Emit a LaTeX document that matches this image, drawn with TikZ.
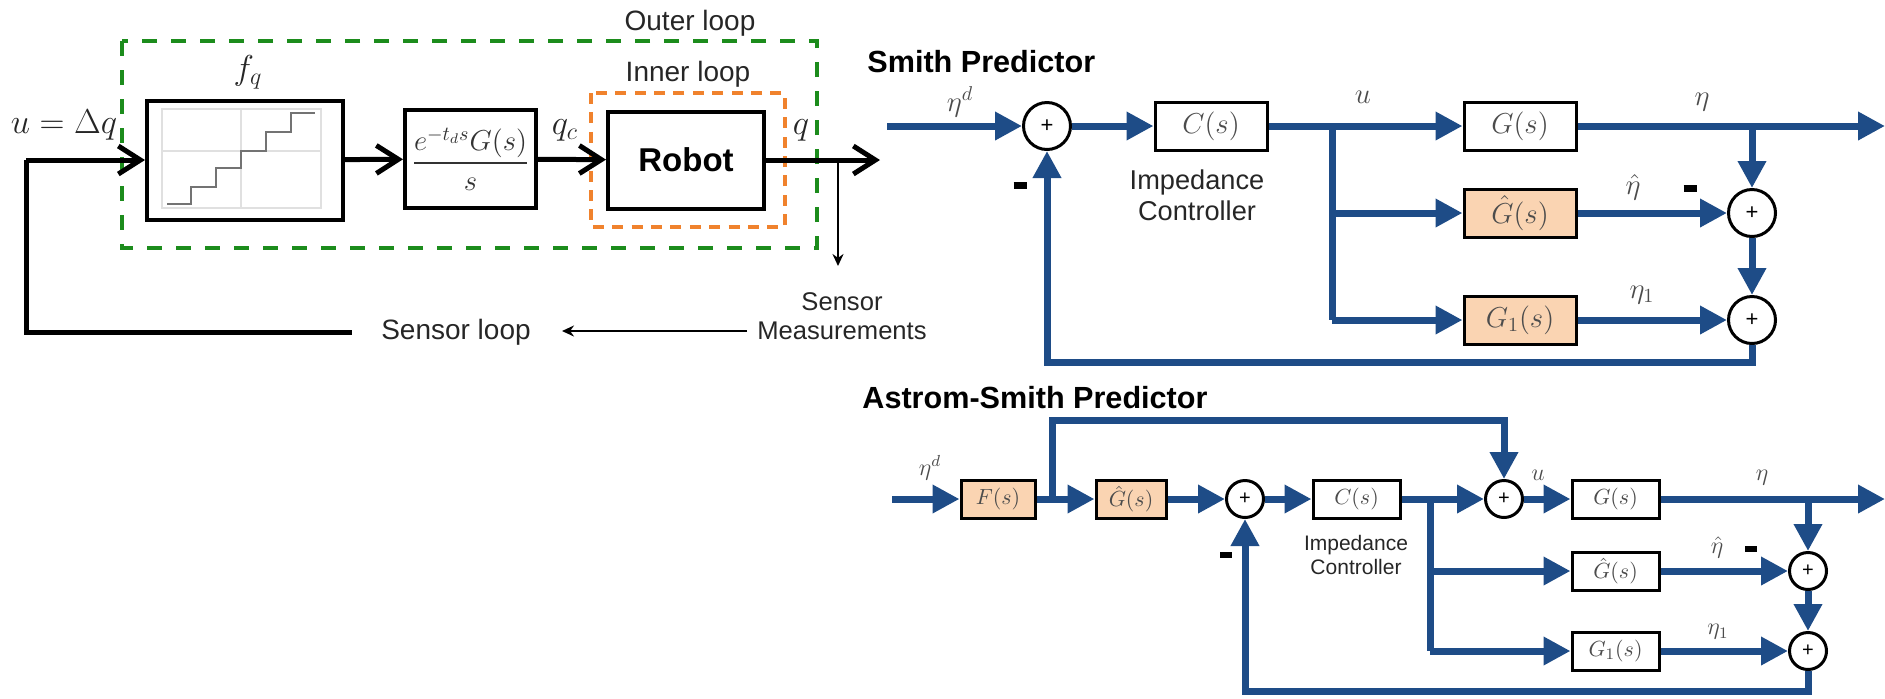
\documentclass[tikz,border=0pt]{standalone}
\usepackage{amsmath}
\usepackage{fontspec}
\setsansfont{Liberation Sans}
\usetikzlibrary{arrows.meta}
\definecolor{sblue}{RGB}{30,76,135}
\definecolor{peach}{RGB}{250,212,178}
\definecolor{outergreen}{RGB}{28,140,28}
\definecolor{innerorange}{RGB}{240,130,45}
\newcommand{\fs}[1]{\fontsize{#1}{1.2\dimexpr#1\relax}\selectfont}
\begin{document}
\begin{tikzpicture}[x=0.5pt,y=-0.5pt,line join=miter,
  sanslbl/.style={font=\fs{14pt}\sffamily,text=black!85,inner sep=0},
  mathlbl/.style={font=\fs{17pt},text=black!85,inner sep=0},
  blk/.style={line width=2.5pt,black,-{Straight Barb[length=11pt,width=14pt]}},
  blkline/.style={line width=2.5pt,black},
  thinarr/.style={line width=1pt,black,-{Stealth[length=6pt,width=5.5pt]}},
  bigbox/.style={draw,line width=2pt,fill=white,inner sep=0},
  bluearr/.style={draw=sblue,line width=3.5pt,-{Triangle[length=13.5pt,width=13.5pt]}},
  blueline/.style={draw=sblue,line width=3.5pt},
  tf/.style={draw,line width=1.5pt,fill=white,inner sep=0,minimum width=56pt,minimum height=24pt,font=\fs{14pt},text=black!70},
  tfs/.style={draw,line width=1.5pt,fill=white,inner sep=0,minimum width=43.5pt,minimum height=19pt,font=\fs{11.3pt},text=black!70},
  sumc/.style={circle,draw,line width=1.5pt,fill=white,inner sep=0,minimum size=23.5pt,font=\fs{11pt}\sffamily},
  sumcs/.style={circle,draw,line width=1.5pt,fill=white,inner sep=0,minimum size=18.5pt,font=\fs{10pt}\sffamily},
  siglbl/.style={font=\fs{14pt},text=black!70,inner sep=0},
  siglbls/.style={font=\fs{11.5pt},text=black!70,inner sep=0},
  minus/.style={inner sep=0,text=black},
  title/.style={font=\fs{15.3pt}\sffamily\bfseries,anchor=west,inner sep=0}
]
\useasboundingbox (0,0) rectangle (1885,698);

% ---------------- left: quantised joint command loop ----------------
\draw[outergreen,line width=2pt,dash pattern=on 7.5pt off 7pt] (122,41) rectangle (817,248);
\draw[innerorange,line width=1.8pt,dash pattern=on 5.5pt off 4.2pt] (591,93) rectangle (785,227);
\node[sanslbl] (outerlbl) at (690,23) {Outer loop};
\node[sanslbl] (innerlbl) at (688,74) {Inner loop};

\node[bigbox,minimum width=98pt,minimum height=59.5pt] (fq) at (245,160) {};
% staircase characteristic inside the quantiser block
\draw[black!12,line width=0.8pt] (162,109) rectangle (321,208);
\draw[black!12,line width=0.8pt] (241,109) -- (241,208) (162,151) -- (321,151);
\draw[black!55,line width=1.3pt] (167,204) -| (191,187) -| (216,168) -| (241,151) -| (266,132) -| (291,113) -- (315,113);
\node[mathlbl] (fqlbl) at (248,72) {$f_q$};

\node[bigbox,minimum width=65.5pt,minimum height=49pt,font=\fs{14pt},text=black!80] (delay) at (470.5,159) {$\dfrac{e^{-t_d s}G(s)}{s}$};
\node[bigbox,minimum width=78pt,minimum height=48.5pt,font=\fs{16.5pt}\sffamily\bfseries] (robot) at (686,160) {Robot};

\coordinate (uin) at (26,160);
\coordinate (fbc) at (26,332);
\coordinate (fbe) at (352,332);
\coordinate (qout) at (880,160);
\coordinate (sb) at (838,160);
\coordinate (se) at (838,266);
\coordinate (sla) at (747,331);
\coordinate (slb) at (562,331);

\draw[blk] (uin) -- (fq);
\draw[blk] (fq) -- (delay);
\draw[blk] (delay) -- (robot);
\draw[blk] (robot) -- (qout);
\draw[blkline] (uin) -- (fbc) -- (fbe);
\draw[thinarr] (sb) -- (se);
\draw[thinarr] (sla) -- (slb);

\node[mathlbl] (ulbl) at (64,125) {$u=\Delta q$};
\node[mathlbl] (qclbl) at (565,130) {$q_c$};
\node[mathlbl] (qlbl) at (801,130) {$q$};
\node[sanslbl,font=\fs{12.8pt}\sffamily,align=center] (sm) at (842,316) {Sensor\\[-1pt]Measurements};
\node[sanslbl] (sl) at (456,332) {Sensor loop};

% ---------------- Smith predictor ----------------
\node[title] (smithtitle) at (867,62) {Smith Predictor};
\coordinate (sin) at (887,126);
\node[sumc] (s1) at (1047,126) {+};
\node[tf] (c1) at (1211,126) {$C(s)$};
\node[tf] (g1) at (1520,126) {$G(s)$};
\node[tf,fill=peach] (gh1) at (1520,213) {$\hat G(s)$};
\node[tf,fill=peach] (gone1) at (1520,320) {$G_1(s)$};
\node[sumc] (s2) at (1752,213) {+};
\node[sumc] (s3) at (1752,320) {+};
\coordinate (b1) at (1332,126);
\coordinate (o1) at (1885,126);
\coordinate (fb1) at (1752,362);

\draw[bluearr] (sin) -- (s1);
\draw[bluearr] (s1) -- (c1);
\draw[bluearr] (c1) -- (g1);
\draw[bluearr] (g1) -- (o1);
\draw[blueline] (b1) -- (b1 |- gone1);
\draw[bluearr] (b1 |- gh1) -- (gh1);
\draw[bluearr] (b1 |- gone1) -- (gone1);
\draw[bluearr] (s2 |- g1) -- (s2);
\draw[bluearr] (gh1) -- (s2);
\draw[bluearr] (gone1) -- (s3);
\draw[bluearr] (s2) -- (s3);
\draw[bluearr] (s3) -- (fb1) -| (s1);

\node[siglbl] (etad1) at (960,102) {$\eta^d$};
\node[siglbl] (u1) at (1363,97) {$u$};
\node[siglbl] (eta1) at (1702,102) {$\eta$};
\node[siglbl] (etah1) at (1633,187) {$\hat\eta$};
\node[siglbl] (etaone1) at (1642,295) {$\eta_1$};
\node[minus] (m1) at (1020,185) {\rule{6.5pt}{3.5pt}};
\node[minus] (m2) at (1690,188) {\rule{6.5pt}{3.5pt}};
\node[sanslbl,font=\fs{13.6pt}\sffamily,align=center] (imp1) at (1197,195) {Impedance\\[-1pt]Controller};

% ---------------- Astrom-Smith predictor ----------------
\node[title] (astromtitle) at (862,398) {Astrom-Smith Predictor};
\coordinate (ain) at (892,499);
\node[tfs,fill=peach,minimum width=37pt] (fs) at (998,499) {$F(s)$};
\node[tfs,fill=peach,minimum width=35pt] (ghf) at (1131,499) {$\hat G(s)$};
\node[sumcs] (a1) at (1245,499) {+};
\node[tfs] (c2) at (1356.5,499) {$C(s)$};
\node[sumcs] (au) at (1504,499) {+};
\node[tfs] (g2) at (1615.5,499) {$G(s)$};
\node[tfs] (gh2) at (1615.5,571) {$\hat G(s)$};
\node[tfs] (gone2) at (1615.5,651) {$G_1(s)$};
\node[sumcs] (a2) at (1808,571) {+};
\node[sumcs] (a3) at (1808,651) {+};
\coordinate (tb) at (1052,499);
\coordinate (tt) at (1052,420);
\coordinate (b2) at (1430,499);
\coordinate (o2) at (1885,499);
\coordinate (fb2) at (1808,691);

\draw[bluearr] (ain) -- (fs);
\draw[bluearr] (fs) -- (ghf);
\draw[bluearr] (tb) -- (tt) -| (au);
\draw[bluearr] (ghf) -- (a1);
\draw[bluearr] (a1) -- (c2);
\draw[bluearr] (c2) -- (au);
\draw[bluearr] (au) -- (g2);
\draw[bluearr] (g2) -- (o2);
\draw[blueline] (b2) -- (b2 |- gone2);
\draw[bluearr] (b2 |- gh2) -- (gh2);
\draw[bluearr] (b2 |- gone2) -- (gone2);
\draw[bluearr] (a2 |- g2) -- (a2);
\draw[bluearr] (gh2) -- (a2);
\draw[bluearr] (gone2) -- (a3);
\draw[bluearr] (a2) -- (a3);
\draw[bluearr] (a3) -- (fb2) -| (a1);

\node[siglbls] (etad2) at (930,468) {$\eta^d$};
\node[siglbls] (u2) at (1538,475) {$u$};
\node[siglbls] (eta2) at (1762,478) {$\eta$};
\node[siglbls] (etah2) at (1717,547) {$\hat\eta$};
\node[siglbls] (etaone2) at (1718,632) {$\eta_1$};
\node[minus] (m3) at (1226,555) {\rule{6pt}{3.2pt}};
\node[minus] (m4) at (1751,549) {\rule{6pt}{3.2pt}};
\node[sanslbl,font=\fs{10.5pt}\sffamily,align=center] (imp2) at (1356,555) {Impedance\\[-1pt]Controller};
\end{tikzpicture}
\end{document}
